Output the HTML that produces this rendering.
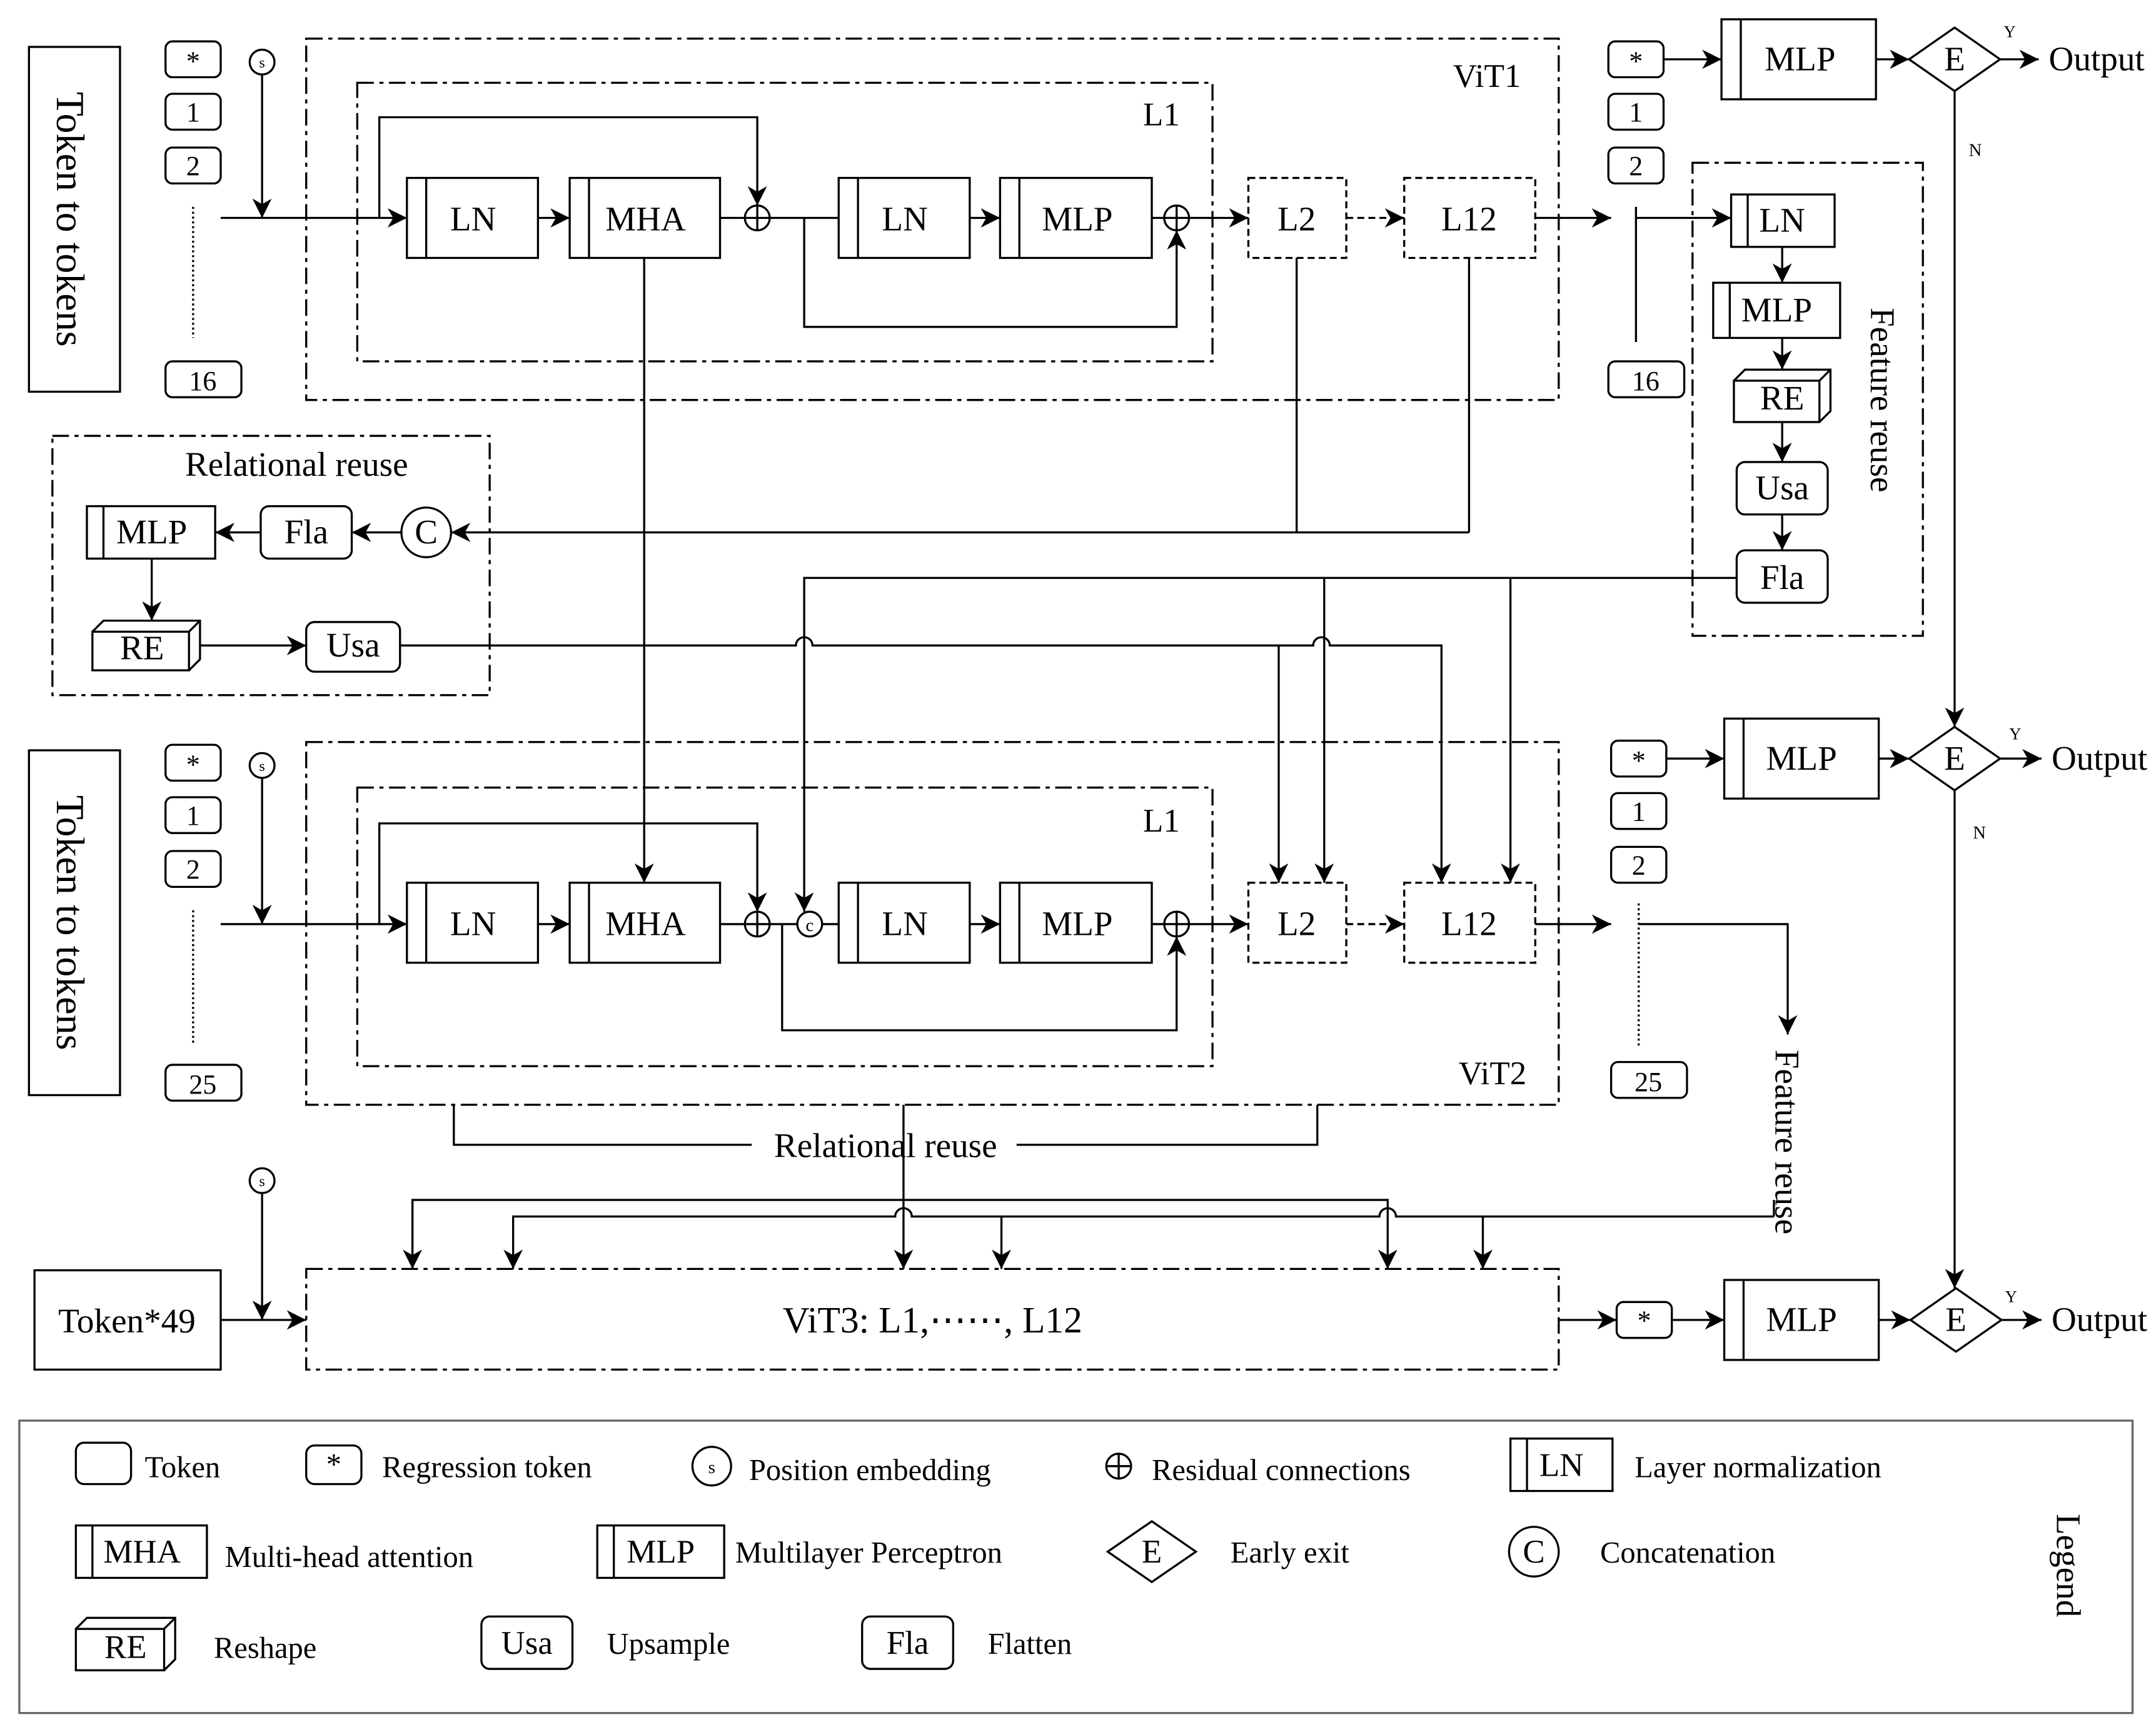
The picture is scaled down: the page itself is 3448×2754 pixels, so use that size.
<!DOCTYPE html>
<html><head><meta charset="utf-8"><style>
html,body{margin:0;padding:0;background:#fff}
svg{display:block}
text{font-family:"Liberation Serif",serif;fill:#000}
</style></head><body>
<svg width="3448" height="2754" viewBox="0 0 1563 1248.5" preserveAspectRatio="none" xmlns="http://www.w3.org/2000/svg">
<defs>
<marker id="a" markerUnits="userSpaceOnUse" markerWidth="16" markerHeight="14" refX="14" refY="7" orient="auto"><path d="M0,0 L14,7 L0,14 L4,7 Z" fill="#000"/></marker>
</defs>
<g fill="none" stroke="#000" stroke-width="1.5">
<rect x="21" y="34" width="66" height="250"/>
<rect x="21" y="544" width="66" height="250"/>
<rect x="25" y="921" width="135" height="72"/>
<rect x="120" y="30" width="40" height="26" rx="5"/><rect x="120" y="68" width="40" height="26" rx="5"/><rect x="120" y="107" width="40" height="26" rx="5"/><rect x="120" y="262" width="55" height="26" rx="5"/>
<line x1="140" y1="150" x2="140" y2="245" stroke-dasharray="1.5,2"/>
<circle cx="190" cy="45" r="9"/>
<line x1="190" y1="54" x2="190" y2="158" marker-end="url(#a)"/>
<line x1="160" y1="158" x2="295" y2="158" marker-end="url(#a)"/>
<rect x="222" y="28" width="908" height="262" stroke-dasharray="12,4,3,4"/>
<rect x="259" y="60" width="620" height="202" stroke-dasharray="12,4,3,4"/>
<rect x="295" y="129" width="95" height="58"/><line x1="309" y1="129" x2="309" y2="187"/>
<rect x="413" y="129" width="109" height="58"/><line x1="427" y1="129" x2="427" y2="187"/>
<circle cx="549" cy="158" r="9"/><line x1="540" y1="158" x2="558" y2="158"/><line x1="549" y1="149" x2="549" y2="167"/>
<rect x="608" y="129" width="95" height="58"/><line x1="622" y1="129" x2="622" y2="187"/>
<rect x="725" y="129" width="110" height="58"/><line x1="739" y1="129" x2="739" y2="187"/>
<circle cx="853" cy="158" r="9"/><line x1="844" y1="158" x2="862" y2="158"/><line x1="853" y1="149" x2="853" y2="167"/>
<polyline points="275,158 275,85 549,85 549,149" marker-end="url(#a)"/>
<polyline points="583,158 583,237 853,237 853,167" marker-end="url(#a)"/>
<line x1="390" y1="158" x2="413" y2="158" marker-end="url(#a)"/>
<line x1="522" y1="158" x2="540" y2="158"/>
<line x1="558" y1="158" x2="608" y2="158"/>
<line x1="703" y1="158" x2="725" y2="158" marker-end="url(#a)"/>
<line x1="835" y1="158" x2="844" y2="158"/>
<line x1="862" y1="158" x2="905" y2="158" marker-end="url(#a)"/>
<rect x="905" y="129" width="71" height="58" stroke-dasharray="5,3"/>
<rect x="1018" y="129" width="95" height="58" stroke-dasharray="5,3"/>
<line x1="976" y1="158" x2="1018" y2="158" stroke-dasharray="5,3" marker-end="url(#a)"/>
<line x1="1113" y1="158" x2="1168" y2="158" marker-end="url(#a)"/>
<rect x="1166" y="30" width="40" height="26" rx="5"/><rect x="1166" y="68" width="40" height="26" rx="5"/><rect x="1166" y="107" width="40" height="26" rx="5"/><rect x="1166" y="262" width="55" height="26" rx="5"/>
<line x1="1186" y1="150" x2="1186" y2="248"/>
<line x1="1206" y1="43" x2="1248" y2="43" marker-end="url(#a)"/>
<rect x="1248" y="14" width="112" height="58"/><line x1="1262" y1="14" x2="1262" y2="72"/>
<polygon points="1384,43 1417,20 1450,43 1417,66"/>
<line x1="1360" y1="43" x2="1384" y2="43" marker-end="url(#a)"/>
<line x1="1450" y1="43" x2="1478" y2="43" marker-end="url(#a)"/>
<line x1="1417" y1="66" x2="1417" y2="527" marker-end="url(#a)"/>
<line x1="1186" y1="158" x2="1255" y2="158" marker-end="url(#a)"/>
<rect x="1227" y="118" width="167" height="343" stroke-dasharray="12,4,3,4"/>
<rect x="1255" y="141" width="75" height="38"/><line x1="1267" y1="141" x2="1267" y2="179"/>
<line x1="1292" y1="179" x2="1292" y2="205" marker-end="url(#a)"/>
<rect x="1242" y="205" width="92" height="40"/><line x1="1254" y1="205" x2="1254" y2="245"/>
<line x1="1292" y1="245" x2="1292" y2="268" marker-end="url(#a)"/>
<rect x="1257" y="276" width="62" height="30"/><polyline points="1257,276 1265,268 1327,268 1327,298 1319,306"/><line x1="1319" y1="276" x2="1327" y2="268"/>
<line x1="1292" y1="306" x2="1292" y2="335" marker-end="url(#a)"/>
<rect x="1259" y="335" width="66" height="38" rx="6"/>
<line x1="1292" y1="373" x2="1292" y2="399" marker-end="url(#a)"/>
<rect x="1259" y="399" width="66" height="38" rx="6"/>
<rect x="38" y="316" width="317" height="188" stroke-dasharray="12,4,3,4"/>
<rect x="63" y="367" width="93" height="38"/><line x1="75" y1="367" x2="75" y2="405"/>
<rect x="189" y="367" width="66" height="38" rx="6"/>
<circle cx="309" cy="386" r="18"/>
<line x1="291" y1="386" x2="255" y2="386" marker-end="url(#a)"/>
<line x1="189" y1="386" x2="156" y2="386" marker-end="url(#a)"/>
<line x1="110" y1="405" x2="110" y2="450" marker-end="url(#a)"/>
<rect x="67" y="458" width="70" height="28"/><polyline points="67,458 75,450 145,450 145,478 137,486"/><line x1="137" y1="458" x2="145" y2="450"/>
<line x1="145" y1="468" x2="222" y2="468" marker-end="url(#a)"/>
<rect x="222" y="451" width="68" height="36" rx="6"/>
<line x1="1065" y1="386" x2="327" y2="386" marker-end="url(#a)"/>
<line x1="467" y1="187" x2="467" y2="640" marker-end="url(#a)"/>
<line x1="940" y1="187" x2="940" y2="386"/>
<line x1="1065" y1="187" x2="1065" y2="386"/>
<path d="M290,468 L577,468 A6,6 0 0 1 589,468 L952,468 A6,6 0 0 1 964,468 L1045,468 L1045,640" marker-end="url(#a)"/>
<polyline points="1259,419 583,419 583,661" marker-end="url(#a)"/>
<line x1="960" y1="419" x2="960" y2="640" marker-end="url(#a)"/>
<line x1="1095" y1="419" x2="1095" y2="640" marker-end="url(#a)"/>
<line x1="927" y1="468" x2="927" y2="640" marker-end="url(#a)"/>
<rect x="120" y="540" width="40" height="26" rx="5"/><rect x="120" y="578" width="40" height="26" rx="5"/><rect x="120" y="617" width="40" height="26" rx="5"/><rect x="120" y="772" width="55" height="26" rx="5"/>
<line x1="140" y1="660" x2="140" y2="758" stroke-dasharray="1.5,2"/>
<circle cx="190" cy="555" r="9"/>
<line x1="190" y1="564" x2="190" y2="670" marker-end="url(#a)"/>
<line x1="160" y1="670" x2="295" y2="670" marker-end="url(#a)"/>
<rect x="222" y="538" width="908" height="263" stroke-dasharray="12,4,3,4"/>
<rect x="259" y="571" width="620" height="202" stroke-dasharray="12,4,3,4"/>
<rect x="295" y="640" width="95" height="58"/><line x1="309" y1="640" x2="309" y2="698"/>
<rect x="413" y="640" width="109" height="58"/><line x1="427" y1="640" x2="427" y2="698"/>
<circle cx="549" cy="670" r="9"/><line x1="540" y1="670" x2="558" y2="670"/><line x1="549" y1="661" x2="549" y2="679"/>
<circle cx="587" cy="670" r="9"/>
<rect x="608" y="640" width="95" height="58"/><line x1="622" y1="640" x2="622" y2="698"/>
<rect x="725" y="640" width="110" height="58"/><line x1="739" y1="640" x2="739" y2="698"/>
<circle cx="853" cy="670" r="9"/><line x1="844" y1="670" x2="862" y2="670"/><line x1="853" y1="661" x2="853" y2="679"/>
<polyline points="275,670 275,597 549,597 549,661" marker-end="url(#a)"/>
<polyline points="567,670 567,747 853,747 853,679" marker-end="url(#a)"/>
<line x1="390" y1="670" x2="413" y2="670" marker-end="url(#a)"/>
<line x1="522" y1="670" x2="540" y2="670"/>
<line x1="558" y1="670" x2="578" y2="670"/>
<line x1="596" y1="670" x2="608" y2="670"/>
<line x1="703" y1="670" x2="725" y2="670" marker-end="url(#a)"/>
<line x1="835" y1="670" x2="844" y2="670"/>
<line x1="862" y1="670" x2="905" y2="670" marker-end="url(#a)"/>
<rect x="905" y="640" width="71" height="58" stroke-dasharray="5,3"/>
<rect x="1018" y="640" width="95" height="58" stroke-dasharray="5,3"/>
<line x1="976" y1="670" x2="1018" y2="670" stroke-dasharray="5,3" marker-end="url(#a)"/>
<line x1="1113" y1="670" x2="1168" y2="670" marker-end="url(#a)"/>
<rect x="1168" y="537" width="40" height="26" rx="5"/><rect x="1168" y="575" width="40" height="26" rx="5"/><rect x="1168" y="614" width="40" height="26" rx="5"/><rect x="1168" y="770" width="55" height="26" rx="5"/>
<line x1="1188" y1="655" x2="1188" y2="758" stroke-dasharray="1.5,2"/>
<polyline points="1188,670 1296,670 1296,750" marker-end="url(#a)"/>
<line x1="1208" y1="550" x2="1250" y2="550" marker-end="url(#a)"/>
<rect x="1250" y="521" width="112" height="58"/><line x1="1264" y1="521" x2="1264" y2="579"/>
<polygon points="1384,550 1417,527 1450,550 1417,573"/>
<line x1="1362" y1="550" x2="1384" y2="550" marker-end="url(#a)"/>
<line x1="1450" y1="550" x2="1480" y2="550" marker-end="url(#a)"/>
<line x1="1417" y1="573" x2="1417" y2="934" marker-end="url(#a)"/>
<polyline points="329,801 329,830 545,830"/>
<polyline points="737,830 955,830 955,801"/>
<line x1="655" y1="801" x2="655" y2="920" marker-end="url(#a)"/>
<polyline points="299,920 299,870 1006,870 1006,920" marker-end="url(#a)"/>
<line x1="299" y1="870" x2="299" y2="920" marker-end="url(#a)"/>
<path d="M1286,882 L1012,882 A6,6 0 0 0 1000,882 L661,882 A6,6 0 0 0 649,882 L372,882 L372,920" marker-end="url(#a)"/>
<line x1="1286" y1="882" x2="1286" y2="870"/>
<line x1="726" y1="882" x2="726" y2="920" marker-end="url(#a)"/>
<line x1="1075" y1="882" x2="1075" y2="920" marker-end="url(#a)"/>
<rect x="222" y="920" width="908" height="73" stroke-dasharray="12,4,3,4"/>
<circle cx="190" cy="856" r="9"/>
<line x1="190" y1="865" x2="190" y2="957" marker-end="url(#a)"/>
<line x1="160" y1="957" x2="222" y2="957" marker-end="url(#a)"/>
<line x1="1130" y1="957" x2="1172" y2="957" marker-end="url(#a)"/>
<rect x="1172" y="944" width="40" height="26" rx="5"/>
<line x1="1212" y1="957" x2="1250" y2="957" marker-end="url(#a)"/>
<rect x="1250" y="928" width="112" height="58"/><line x1="1264" y1="928" x2="1264" y2="986"/>
<polygon points="1385,957 1418,934 1451,957 1418,980"/>
<line x1="1362" y1="957" x2="1385" y2="957" marker-end="url(#a)"/>
<line x1="1451" y1="957" x2="1480" y2="957" marker-end="url(#a)"/>
<rect x="14" y="1030" width="1532" height="212" stroke="#666"/>
<rect x="55" y="1046" width="40" height="30" rx="6"/>
<rect x="222" y="1048" width="40" height="28" rx="6"/>
<circle cx="516" cy="1063" r="14"/>
<circle cx="811" cy="1063" r="9"/><line x1="802" y1="1063" x2="820" y2="1063"/><line x1="811" y1="1054" x2="811" y2="1072"/>
<rect x="1095" y="1043" width="74" height="38"/><line x1="1107" y1="1043" x2="1107" y2="1081"/>
<rect x="55" y="1106" width="95" height="38"/><line x1="67" y1="1106" x2="67" y2="1144"/>
<rect x="433" y="1106" width="92" height="38"/><line x1="445" y1="1106" x2="445" y2="1144"/>
<polygon points="803,1125 835,1103 867,1125 835,1147"/>
<circle cx="1112" cy="1125" r="18"/>
<rect x="55" y="1181" width="64" height="30"/><polyline points="55,1181 63,1173 127,1173 127,1203 119,1211"/><line x1="119" y1="1181" x2="127" y2="1173"/>
<rect x="349" y="1172" width="66" height="38" rx="6"/>
<rect x="625" y="1172" width="66" height="38" rx="6"/>
</g>
<g font-size="25" text-anchor="middle">
<text transform="translate(48,159) rotate(90)" dominant-baseline="middle" font-size="29">Token to tokens</text>
<text transform="translate(48,669) rotate(90)" dominant-baseline="middle" font-size="29">Token to tokens</text>
<text x="92" y="966">Token*49</text>
<text x="140" y="51" font-size="20">*</text><text x="140" y="88" font-size="20">1</text><text x="140" y="127" font-size="20">2</text><text x="147" y="283" font-size="20">16</text>
<text x="140" y="561" font-size="20">*</text><text x="140" y="598" font-size="20">1</text><text x="140" y="637" font-size="20">2</text><text x="147" y="793" font-size="20">25</text>
<text x="1186" y="51" font-size="20">*</text><text x="1186" y="88" font-size="20">1</text><text x="1186" y="127" font-size="20">2</text><text x="1193" y="283" font-size="20">16</text>
<text x="1188" y="558" font-size="20">*</text><text x="1188" y="595" font-size="20">1</text><text x="1188" y="634" font-size="20">2</text><text x="1195" y="791" font-size="20">25</text>
<text x="1192" y="964" font-size="20">*</text>
<text x="190" y="49" font-size="11">s</text><text x="190" y="559" font-size="11">s</text><text x="190" y="860" font-size="11">s</text>
<text x="1078" y="63" font-size="24">ViT1</text><text x="842" y="91" font-size="24">L1</text>
<text x="1082" y="786" font-size="24">ViT2</text><text x="842" y="603" font-size="24">L1</text>
<text x="343" y="167">LN</text><text x="468" y="167">MHA</text><text x="656" y="167">LN</text><text x="781" y="167">MLP</text><text x="940" y="167">L2</text><text x="1065" y="167">L12</text>
<text x="343" y="678">LN</text><text x="468" y="678">MHA</text><text x="656" y="678">LN</text><text x="781" y="678">MLP</text><text x="940" y="678">L2</text><text x="1065" y="678">L12</text>
<text x="587" y="675" font-size="13">c</text>
<text x="1305" y="51">MLP</text><text x="1417" y="51">E</text><text x="1520" y="51">Output</text>
<text x="1306" y="558">MLP</text><text x="1417" y="558">E</text><text x="1522" y="558">Output</text>
<text x="1306" y="965">MLP</text><text x="1418" y="965">E</text><text x="1522" y="965">Output</text>
<text x="1457" y="27" font-size="12">Y</text><text x="1432" y="113" font-size="13">N</text>
<text x="1461" y="536" font-size="12">Y</text><text x="1435" y="608" font-size="13">N</text>
<text x="1458" y="944" font-size="12">Y</text>
<text x="1292" y="168">LN</text><text x="1288" y="233">MLP</text><text x="1292" y="297">RE</text><text x="1292" y="362">Usa</text><text x="1292" y="427">Fla</text>
<text transform="translate(1362,290) rotate(90)" dominant-baseline="middle">Feature reuse</text>
<text transform="translate(1293,828) rotate(90)" dominant-baseline="middle">Feature reuse</text>
<text x="215" y="345">Relational reuse</text>
<text x="110" y="394">MLP</text><text x="222" y="394">Fla</text><text x="309" y="394">C</text><text x="103" y="478">RE</text><text x="256" y="476">Usa</text>
<text x="642" y="839">Relational reuse</text>
<text x="676" y="966" font-size="27">ViT3: L1,⋯⋯, L12</text>
</g>
<g font-size="22">
<text x="105" y="1071">Token</text>
<text x="242" y="1069" text-anchor="middle">*</text><text x="277" y="1071">Regression token</text>
<text x="516" y="1068" text-anchor="middle" font-size="13">s</text><text x="543" y="1073">Position embedding</text>
<text x="835" y="1073">Residual connections</text>
<text x="1132" y="1070" text-anchor="middle" font-size="24">LN</text><text x="1185" y="1071">Layer normalization</text>
<text x="103" y="1133" text-anchor="middle" font-size="24">MHA</text><text x="163" y="1136">Multi-head attention</text>
<text x="479" y="1133" text-anchor="middle" font-size="24">MLP</text><text x="533" y="1133">Multilayer Perceptron</text>
<text x="835" y="1133" text-anchor="middle" font-size="24">E</text><text x="892" y="1133">Early exit</text>
<text x="1112" y="1133" text-anchor="middle" font-size="24">C</text><text x="1160" y="1133">Concatenation</text>
<text x="91" y="1202" text-anchor="middle" font-size="24">RE</text><text x="155" y="1202">Reshape</text>
<text x="382" y="1199" text-anchor="middle" font-size="24">Usa</text><text x="440" y="1199">Upsample</text>
<text x="658" y="1199" text-anchor="middle" font-size="24">Fla</text><text x="716" y="1199">Flatten</text>
<text transform="translate(1497,1135) rotate(90)" text-anchor="middle" dominant-baseline="middle" font-size="25">Legend</text>
</g>
</svg>
</body></html>
